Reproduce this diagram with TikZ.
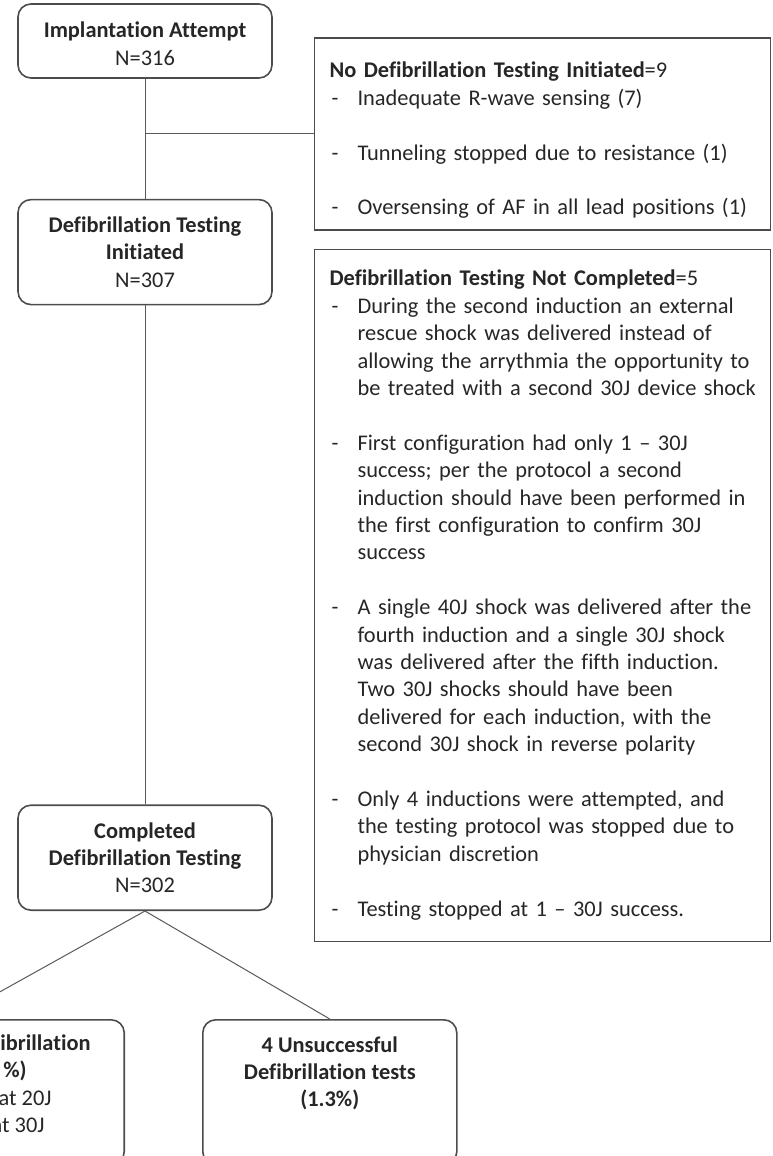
\documentclass[tikz,border=0pt]{standalone}
\usepackage{fontspec}
\setmainfont[Ligatures=CommonOff]{Carlito}
\usetikzlibrary{positioning}

\begin{document}
\begin{tikzpicture}
    [ stage/.style =
      { draw=black!70, line width=.8pt, rounded corners=6.5pt, align=center
      , minimum width=127pt, minimum height=52.5pt, inner sep=2pt }
    , reason/.style =
      { draw=black!70, line width=.8pt, align=left, text width=213pt
      , inner xsep=7.5pt, inner ysep=2pt }
    , link/.style =
      { draw=black!65, line width=.5pt }
    , every node/.append style =
      { font=\fontsize{11.2}{13.7}\selectfont, text=black!85 }
    ]
    \clip (0pt,0pt) rectangle (386pt,-578pt);

    \node [stage,minimum height=37pt] (impl) at (72.5pt,-20.5pt)
      {\rule{0pt}{10.5pt}\textbf{Implantation Attempt}\\N=316};
    \node [stage] (init) [below=60pt of impl]
      {\textbf{Defibrillation Testing}\\\textbf{Initiated}\\N=307};
    \node [stage] (done) [below=249.5pt of init]
      {\textbf{Completed}\\\textbf{Defibrillation Testing}\\N=302};
    \node [stage,minimum width=173pt,minimum height=72.5pt] (succ)
      [below left=54pt and 10pt of done.south] {};
    \node [stage,minimum height=72.5pt] (fail)
      [below right=54pt and 28.5pt of done.south]
      {\textbf{4 Unsuccessful}\\\textbf{Defibrillation tests}\\\textbf{(1.3\%)}\\\rule[-7pt]{0pt}{7pt}};
    \node [inner sep=0pt] (succtxt) [below left=6pt and 17pt of succ.north east]
      {\begin{tabular}{@{}r@{}}
        \textbf{ibrillation}\\
        \textbf{\%)}\hspace*{32pt}\\
        at 20J\hspace*{19.5pt}\\
        at 30J\hspace*{23pt}
      \end{tabular}};

    % reasons for dropping out
    \node [reason,minimum height=96pt] (nodti)
      [below right=17pt and 20.5pt of impl.north east]
      {\noindent\begin{tabular}{@{\hspace{1pt}}p{13pt}@{}l@{}}
        \multicolumn{2}{@{}l@{}}{\rule{0pt}{16.6pt}\textbf{No Defibrillation Testing Initiated}=9}\\
        - & Inadequate R-wave sensing (7)\\
          & \\
        - & Tunneling stopped due to resistance (1)\\
          & \\
        - & Oversensing of AF in all lead positions (1)
      \end{tabular}};
    \node [reason,minimum height=346pt] (notdone) [below=9pt of nodti]
      {\noindent\begin{tabular}{@{\hspace{1pt}}p{13pt}@{}l@{}}
        \multicolumn{2}{@{}l@{}}{\textbf{Defibrillation Testing Not Completed}=5}\\
        - & During the second induction an external\\
          & rescue shock was delivered instead of\\
          & allowing the arrythmia the opportunity to\\
          & be treated with a second 30J device shock\\
          & \\
        - & First configuration had only 1 -- 30J\\
          & success; per the protocol a second\\
          & induction should have been performed in\\
          & the first configuration to confirm 30J\\
          & success\\
          & \\
        - & A single 40J shock was delivered after the\\
          & fourth induction and a single 30J shock\\
          & was delivered after the fifth induction.\\
          & Two 30J shocks should have been\\
          & delivered for each induction, with the\\
          & second 30J shock in reverse polarity\\
          & \\
        - & Only 4 inductions were attempted, and\\
          & the testing protocol was stopped due to\\
          & physician discretion\\
          & \\
        - & Testing stopped at 1 -- 30J success.
      \end{tabular}};
    \coordinate (ndjoin) [below=152.5pt of notdone.north west];

    \draw [link] (impl) -- (init);
    \draw [link] (impl.south |- nodti.west) -- (nodti.west);
    \draw [link] (init) -- (done);
    \draw [link] (init.south |- ndjoin) -- (ndjoin);
    \draw [link] (done.south) -- (succ.north);
    \draw [link] (done.south) -- (fail.north);
  \end{tikzpicture}
\end{document}
